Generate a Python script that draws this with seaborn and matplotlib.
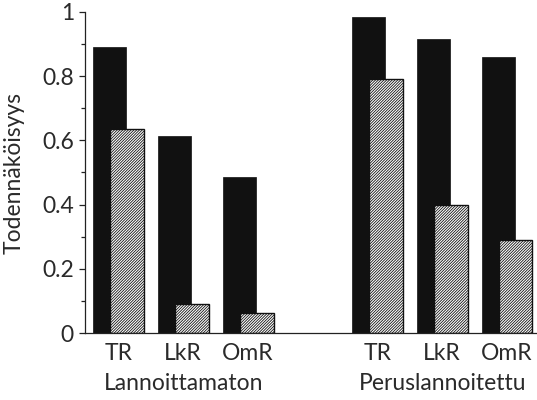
import numpy as np
import pandas as pd
import matplotlib
matplotlib.use("Agg")
import matplotlib.pyplot as plt
import matplotlib.transforms as mtransforms
import seaborn as sns

# ---- data ----
groups = ["Lannoittamaton", "Peruslannoitettu"]
categories = ["TR", "LkR", "OmR"]
black_values = [0.89, 0.615, 0.485, 0.985, 0.915, 0.86]
hatched_values = [0.635, 0.09, 0.063, 0.79, 0.40, 0.29]
y_ticks = [0, 0.2, 0.4, 0.6, 0.8, 1.0]
y_tick_labels = ["0", "0.2", "0.4", "0.6", "0.8", "1"]
y_label = "Todennäköisyys"

sns.set_theme(style="white")
plt.rcParams["font.family"] = ["Lato", "DejaVu Sans"]
plt.rcParams["font.weight"] = "normal"
plt.rcParams["hatch.linewidth"] = 0.6
text_color = "#2a2a2a"
fs = 16.5

# positions: categories within groups, one empty slot between groups
n_cat = len(categories)
centers = []
tick_labels = []
for g in range(len(groups)):
    for c in range(n_cat):
        centers.append(g * (n_cat + 1) + c)
        tick_labels.append(categories[c])
centers = np.array(centers, dtype=float)
offset = 0.135

df_black = pd.DataFrame({"x": centers - offset, "y": black_values})
df_hatch = pd.DataFrame({"x": centers + offset, "y": hatched_values})

fig = plt.figure(figsize=(5.37, 4.0), dpi=100)
ax = fig.add_axes([85 / 537, 67 / 400, 451 / 537, 321 / 400])

sns.barplot(data=df_black, x="x", y="y", native_scale=True, width=0.51,
            color="#111111", saturation=1, edgecolor="#111111", linewidth=0.5,
            errorbar=None, ax=ax)
sns.barplot(data=df_hatch, x="x", y="y", native_scale=True, width=0.52,
            color="white", saturation=1, edgecolor="#111111", linewidth=1.0,
            hatch="////////////", errorbar=None, ax=ax)

ax.set_xlim(-0.517, 6.45)
ax.set_ylim(0, 1)

ax.set_xticks(centers)
ax.set_xticklabels(tick_labels)
ax.set_yticks(y_ticks)
ax.set_yticklabels(y_tick_labels)
ax.set_yticks(np.arange(0.1, 1.0, 0.2), minor=True)

ax.tick_params(axis="x", length=0, pad=7, labelsize=fs, labelcolor=text_color)
ax.tick_params(axis="y", which="major", direction="out", length=4, width=0.9,
               pad=4, labelsize=fs, labelcolor=text_color, left=True, color="#222222")
ax.tick_params(axis="y", which="minor", direction="out", length=3, width=0.9,
               left=True, color="#222222")

for s in ["top", "right"]:
    ax.spines[s].set_visible(False)
for s in ["left", "bottom"]:
    ax.spines[s].set_linewidth(0.9)
    ax.spines[s].set_color("#222222")

ax.set_xlabel("")
ax.set_ylabel(y_label, fontsize=fs, color=text_color, fontweight="normal")
ax.yaxis.set_label_coords(-0.133, 0.5)

trans = mtransforms.blended_transform_factory(ax.transData, ax.transAxes)
for g, name in enumerate(groups):
    gx = g * (n_cat + 1) + (n_cat - 1) / 2
    ax.text(gx, -0.156, name, transform=trans, ha="center", va="center",
            fontsize=fs, color=text_color)

fig.savefig("out.png", dpi=100, facecolor="white")
